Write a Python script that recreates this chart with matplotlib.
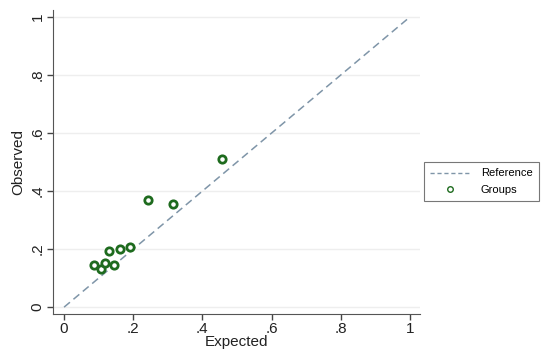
import matplotlib.pyplot as plt
from matplotlib.lines import Line2D

# donnees
expected = [0.457, 0.244, 0.315, 0.191, 0.162, 0.129, 0.087, 0.106, 0.118, 0.143]
observed = [0.510, 0.371, 0.357, 0.208, 0.199, 0.195, 0.145, 0.130, 0.151, 0.145]
ticks = [0, 0.2, 0.4, 0.6, 0.8, 1]
tick_labels = ['0', '.2', '.4', '.6', '.8', '1']

plt.rcParams['font.family'] = ['Liberation Sans', 'DejaVu Sans']

fig = plt.figure(figsize=(5.41, 3.49), dpi=100)
ax = fig.add_axes([0.098, 0.100, 0.678, 0.871])

ax.plot([0, 1], [0, 1], linestyle=(0, (5, 3)), color='#7f95a8', linewidth=1.1)
ax.scatter(expected, observed, s=28, facecolors='white', edgecolors='#1e6b1e', linewidths=2.0, zorder=3)

ax.set_xlim(-0.032, 1.029)
ax.set_ylim(-0.024, 1.024)
ax.set_xticks(ticks)
ax.set_xticklabels(tick_labels)
ax.set_yticks(ticks)
ax.set_yticklabels(tick_labels, rotation=90, va='center')
ax.tick_params(direction='out', length=4, width=1, pad=2, colors='#444444', labelsize=11, labelcolor='#222222')
ax.grid(axis='y', color='#eeeeee', linewidth=1)
ax.set_axisbelow(True)
for s in ['top', 'right']:
    ax.spines[s].set_visible(False)
for s in ['left', 'bottom']:
    ax.spines[s].set_color('#555555')
ax.set_xlabel('Expected', fontsize=11, color='#222222', va='center')
ax.xaxis.set_label_coords(0.5, -0.092)
ax.set_ylabel('Observed', fontsize=11, color='#222222', va='center')
ax.yaxis.set_label_coords(-0.095, 0.5)

handles = [Line2D([], [], linestyle=(0, (3, 2)), color='#7f95a8', linewidth=1.0),
           Line2D([], [], linestyle='none', marker='o', markersize=4, markerfacecolor='white',
                  markeredgecolor='#1e6b1e', markeredgewidth=1.0)]
leg = fig.legend(handles, ['Reference', 'Groups'], loc='center left', bbox_to_anchor=(0.783, 0.479),
                 fontsize=8, frameon=True, fancybox=False, edgecolor='#555555', handlelength=3.6,
                 handletextpad=1.0, borderpad=0.55, labelspacing=0.6, borderaxespad=0)
leg.get_frame().set_linewidth(0.8)

plt.savefig('out.png', dpi=100)
